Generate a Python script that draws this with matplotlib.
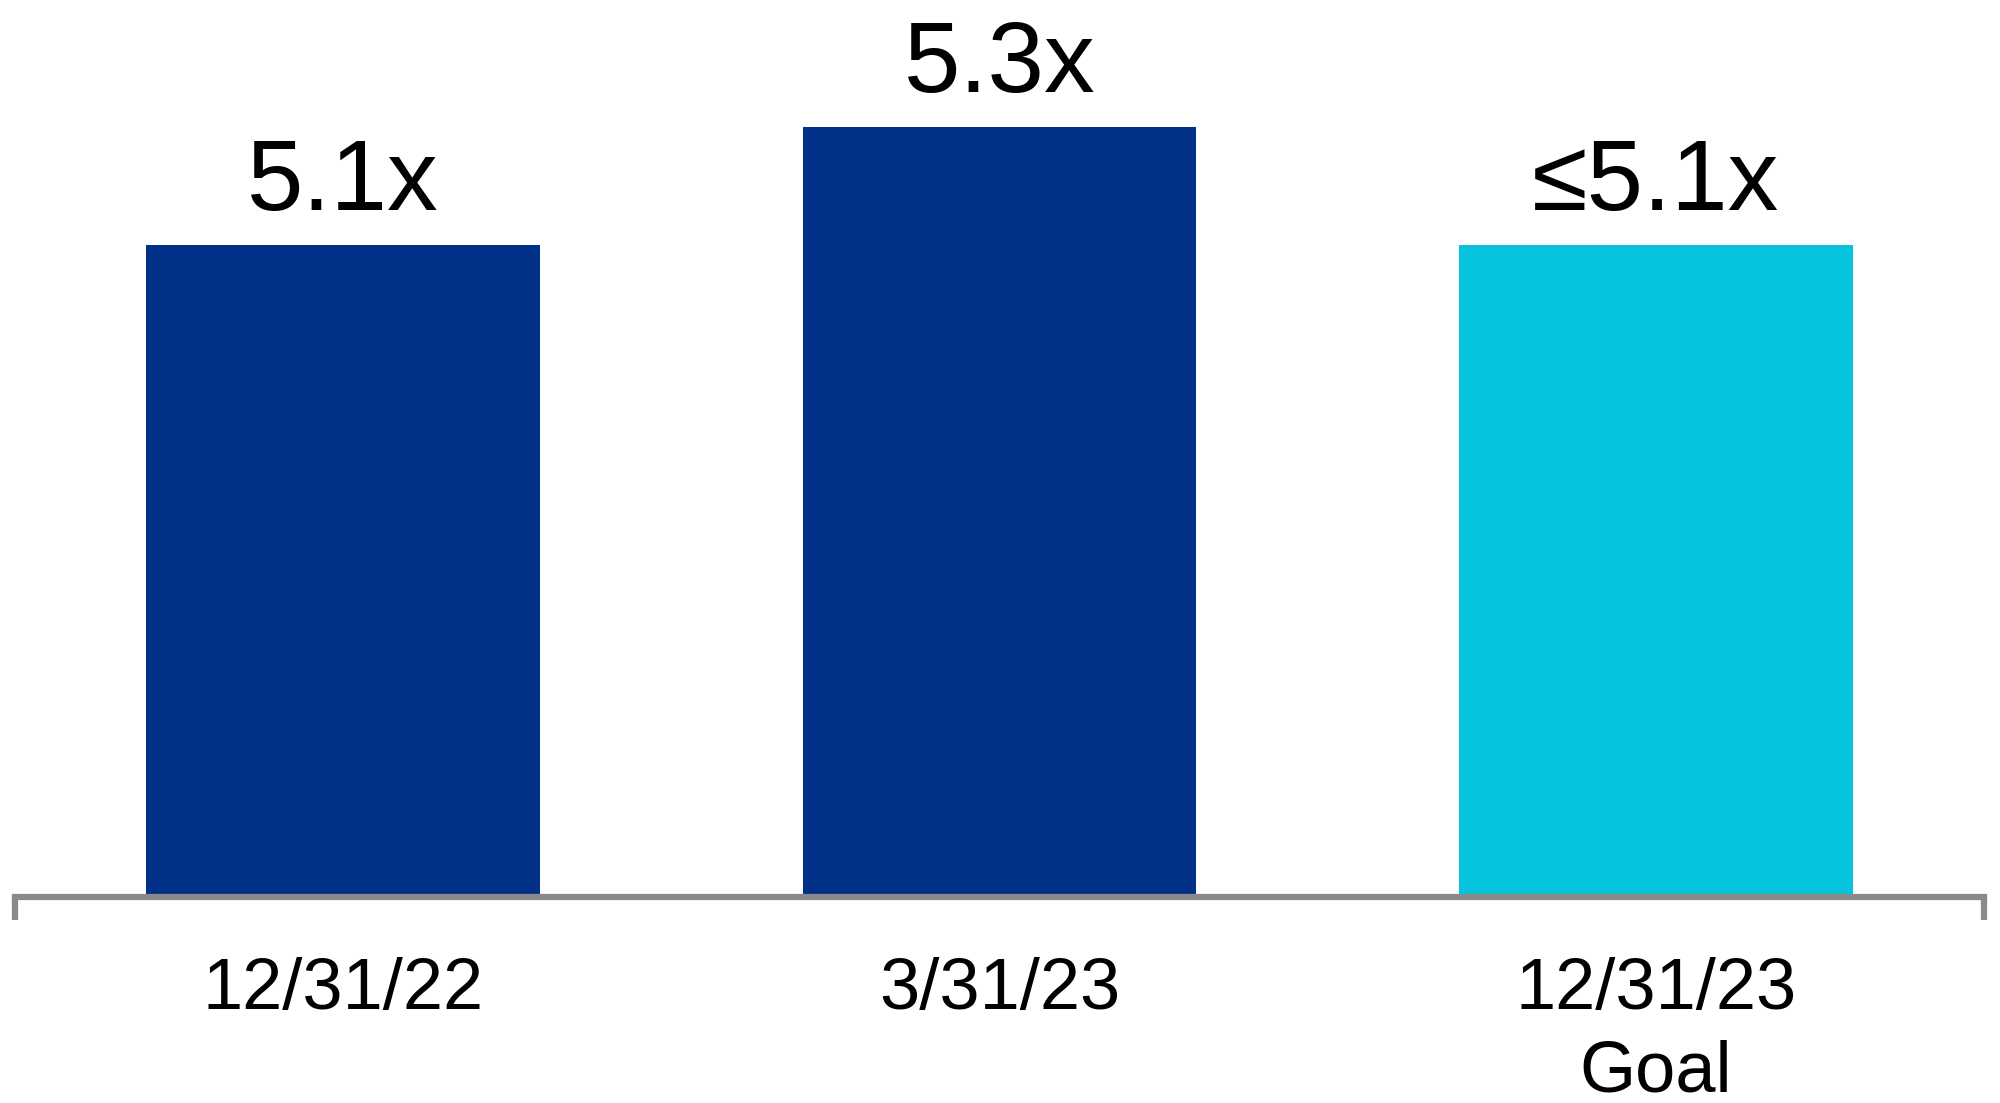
import matplotlib
matplotlib.use("Agg")
import matplotlib.pyplot as plt
import matplotlib.transforms as mtransforms

categories = ["12/31/22", "3/31/23", "12/31/23\nGoal"]
values = [5.1, 5.3, 5.1]
value_labels = ["5.1x", "5.3x", "≤5.1x"]
colors = ["#003087", "#003087", "#06C3DE"]

plt.rcParams['font.family'] = ['Liberation Sans', 'DejaVu Sans']

fig = plt.figure(figsize=(20, 11.03), dpi=100)
ax = fig.add_axes([0.0075, 0.1868, 0.9845, 0.8132])

base = 3.995
x = list(range(len(categories)))
ax.bar(x, [v - base for v in values], bottom=base, width=0.6, color=colors, zorder=2)

ax.set_xlim(-0.5, 2.5)
ax.set_ylim(base, 5.515)

for xi, v, lab in zip(x, values, value_labels):
    ax.annotate(lab, (xi, v), xytext=(0, 25), textcoords='offset points',
                ha='center', va='baseline', fontsize=73, color='black')

ax.set_xticks(x)
ax.set_xticklabels(categories, fontsize=52, linespacing=1.3)
ax.tick_params(axis='x', length=0, pad=43)
ax.set_yticks([])

for s in ['top', 'right', 'left']:
    ax.spines[s].set_visible(False)
ax.spines['bottom'].set_color('#8A8A8A')
ax.spines['bottom'].set_linewidth(4.5)
ax.spines['bottom'].set_zorder(3)

trans = mtransforms.blended_transform_factory(ax.transData, ax.transAxes)
for xe in [-0.5, 2.5]:
    ax.plot([xe, xe], [0, -0.026], transform=trans, color='#8A8A8A',
            linewidth=4.5, clip_on=False, solid_capstyle='butt', zorder=3)

fig.savefig("out.png", dpi=100)
